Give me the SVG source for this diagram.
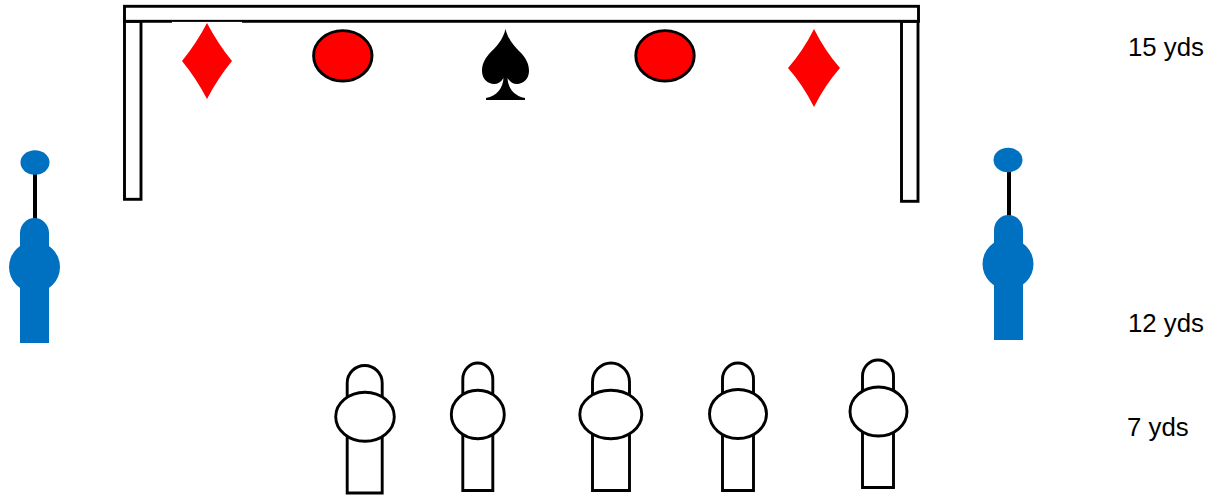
<svg xmlns="http://www.w3.org/2000/svg" width="1223" height="500" viewBox="0 0 1223 500">
<style>
.o{fill:#fff;stroke:#000;stroke-width:2.900}
.r{fill:#f00;stroke:#000;stroke-width:2.900}
.d{fill:#f00}
.b{fill:#0070c0}
.t{font-family:"Liberation Sans",Arial,sans-serif;font-size:25.800px;fill:#000}
</style>
<rect width="1223" height="500" fill="#fff"/>
<g id="goal">
<rect class="o" x="124.500" y="21.300" width="16.500" height="178"/>
<rect class="o" x="901.500" y="21.300" width="16.500" height="180"/>
<rect class="o" x="124.500" y="6.300" width="794" height="15"/>
<rect x="172" y="21.900" width="70" height="1.300" fill="#fff"/>
</g>
<g id="target-diamond-left"><path class="d" d="M207 23Q218 44 232 61Q218 78 207 99Q196 78 182 61Q196 44 207 23Z"/></g>
<g id="target-circle-left"><ellipse class="r" cx="342.800" cy="55.800" rx="29.200" ry="25.200"/></g>
<g id="target-spade"><path fill="#000" d="M505.500 29C503 40 496 47 489 54C484 60 482 65 482 71C482 79 488 84 494 84C498 84 501 82 503.500 78C503 88 497 96 486 98V100H525V98C514 96 508 88 507.500 78C510 82 513 84 517 84C523 84 529 79 529 71C529 65 527 60 522 54C515 47 508 40 505.500 29Z"/></g>
<g id="target-circle-right"><ellipse class="r" cx="665" cy="55.800" rx="29.200" ry="25.200"/></g>
<g id="target-diamond-right"><path class="d" d="M814 29Q825 51 840 68Q825 85 814 107Q803 85 788 68Q803 51 814 29Z"/></g>
<g id="coach-left">
<line x1="35" y1="172" x2="35" y2="220" stroke="#000" stroke-width="4"/>
<ellipse class="b" cx="35" cy="162.500" rx="14.500" ry="12.200"/>
<path class="b" d="M20 343V233A14.500 15 0 0 1 49 233V343Z"/>
<circle class="b" cx="34.500" cy="267" r="25.500"/>
</g>
<g id="coach-right">
<line x1="1009" y1="170" x2="1009" y2="217" stroke="#000" stroke-width="4"/>
<ellipse class="b" cx="1008" cy="160" rx="14.500" ry="12.200"/>
<path class="b" d="M994 340V230A14.500 15 0 0 1 1023 230V340Z"/>
<circle class="b" cx="1008" cy="264" r="25.500"/>
</g>
<g id="player-1">
<path class="o" d="M347.200 493V383A17.500 17.500 0 0 1 382.200 383V493Z"/>
<ellipse class="o" cx="365" cy="416.800" rx="29.300" ry="24.500"/>
</g>
<g id="player-2">
<path class="o" d="M462.800 490.500V379A15 16 0 0 1 492.800 379V490.500Z"/>
<ellipse class="o" cx="477.800" cy="414.500" rx="26.500" ry="24.200"/>
</g>
<g id="player-3">
<path class="o" d="M592.500 490.500V382A18.500 19 0 0 1 629.500 382V490.500Z"/>
<ellipse class="o" cx="610.800" cy="414.500" rx="31" ry="24.200"/>
</g>
<g id="player-4">
<path class="o" d="M722.500 490.500V379A15.500 16 0 0 1 753.500 379V490.500Z"/>
<ellipse class="o" cx="738" cy="414" rx="28.500" ry="24.500"/>
</g>
<g id="player-5">
<path class="o" d="M862.500 487.500V376A15.500 16 0 0 1 893.500 376V487.500Z"/>
<ellipse class="o" cx="878.500" cy="411.500" rx="28.500" ry="24.500"/>
</g>
<g id="distances">
<text class="t" x="1128" y="56">15 yds</text>
<text class="t" x="1128" y="332">12 yds</text>
<text class="t" x="1127" y="436">7 yds</text>
</g>
</svg>
